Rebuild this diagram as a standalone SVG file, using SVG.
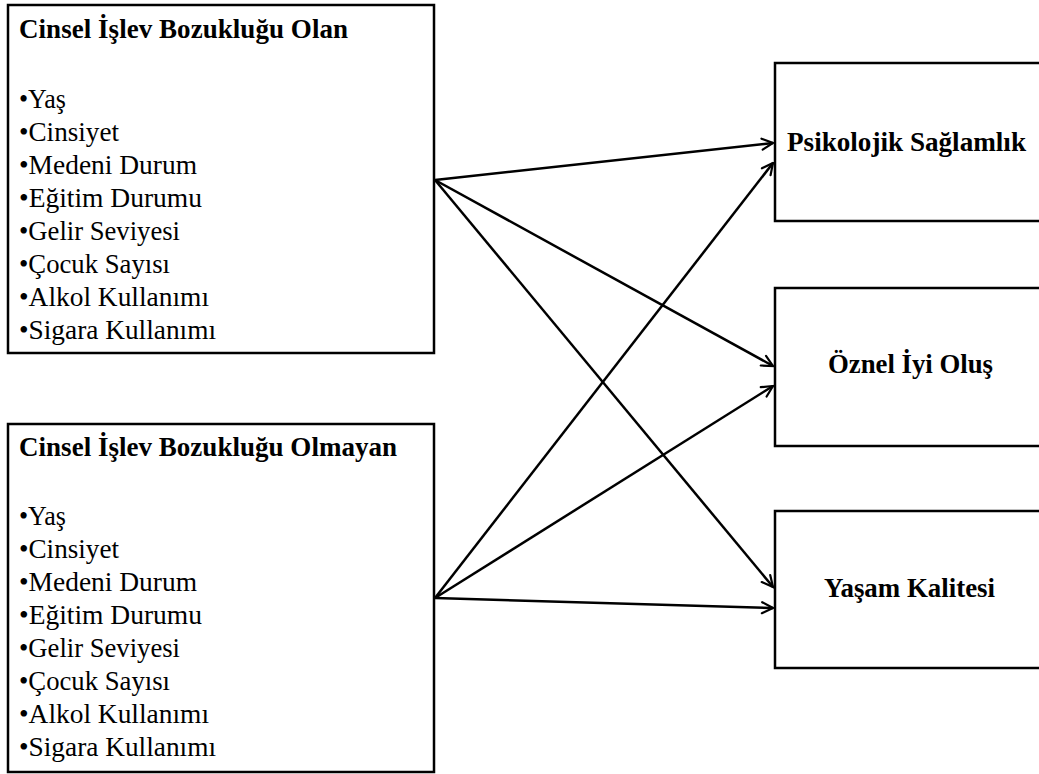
<svg xmlns="http://www.w3.org/2000/svg" width="1039" height="774" viewBox="0 0 1039 774">
  <style>
    .box { fill: #ffffff; stroke: #000000; stroke-width: 2.5; }
    .title { font-family: "Liberation Serif", "DejaVu Serif", serif; font-size: 27px; font-weight: bold; fill: #000000; }
    .item { font-family: "Liberation Serif", "DejaVu Serif", serif; font-size: 27px; fill: #000000; }
    .label { font-family: "Liberation Serif", "DejaVu Serif", serif; font-size: 26.5px; font-weight: bold; fill: #000000; }
    .link { fill: none; stroke: #000000; stroke-width: 2.5; marker-end: url(#arrow); }
  </style>
  <defs>
    <marker id="arrow" viewBox="0 0 14 14" refX="12.5" refY="7" markerWidth="14" markerHeight="14" markerUnits="userSpaceOnUse" orient="auto">
      <path d="M1.5,1.5 L12.5,7 L1.5,12.5" fill="none" stroke="#000000" stroke-width="2.2" stroke-linecap="round" stroke-linejoin="miter"/>
    </marker>
  </defs>
  <rect width="1039" height="774" fill="#ffffff"/>

  <!-- group with sexual dysfunction -->
  <g id="node-olan">
    <rect class="box" x="8" y="5" width="426" height="348"/>
    <text class="title" x="19" y="38" textLength="329" lengthAdjust="spacing">Cinsel İşlev Bozukluğu Olan</text>
    <text class="item" x="19" y="108" textLength="47" lengthAdjust="spacingAndGlyphs">•Yaş</text>
    <text class="item" x="19" y="141" textLength="100" lengthAdjust="spacingAndGlyphs">•Cinsiyet</text>
    <text class="item" x="19" y="174" textLength="178" lengthAdjust="spacingAndGlyphs">•Medeni Durum</text>
    <text class="item" x="19" y="207" textLength="183" lengthAdjust="spacingAndGlyphs">•Eğitim Durumu</text>
    <text class="item" x="19" y="240" textLength="161" lengthAdjust="spacingAndGlyphs">•Gelir Seviyesi</text>
    <text class="item" x="19" y="273" textLength="151" lengthAdjust="spacingAndGlyphs">•Çocuk Sayısı</text>
    <text class="item" x="19" y="306" textLength="190" lengthAdjust="spacingAndGlyphs">•Alkol Kullanımı</text>
    <text class="item" x="19" y="339" textLength="197" lengthAdjust="spacingAndGlyphs">•Sigara Kullanımı</text>
  </g>

  <!-- group without sexual dysfunction -->
  <g id="node-olmayan">
    <rect class="box" x="8" y="424" width="426" height="348"/>
    <text class="title" x="19" y="456" textLength="378" lengthAdjust="spacing">Cinsel İşlev Bozukluğu Olmayan</text>
    <text class="item" x="19" y="525" textLength="47" lengthAdjust="spacingAndGlyphs">•Yaş</text>
    <text class="item" x="19" y="558" textLength="100" lengthAdjust="spacingAndGlyphs">•Cinsiyet</text>
    <text class="item" x="19" y="591" textLength="178" lengthAdjust="spacingAndGlyphs">•Medeni Durum</text>
    <text class="item" x="19" y="624" textLength="183" lengthAdjust="spacingAndGlyphs">•Eğitim Durumu</text>
    <text class="item" x="19" y="657" textLength="161" lengthAdjust="spacingAndGlyphs">•Gelir Seviyesi</text>
    <text class="item" x="19" y="690" textLength="151" lengthAdjust="spacingAndGlyphs">•Çocuk Sayısı</text>
    <text class="item" x="19" y="723" textLength="190" lengthAdjust="spacingAndGlyphs">•Alkol Kullanımı</text>
    <text class="item" x="19" y="756" textLength="197" lengthAdjust="spacingAndGlyphs">•Sigara Kullanımı</text>
  </g>

  <!-- outcome variables -->
  <g id="node-saglamlik">
    <rect class="box" x="775" y="63" width="280" height="158"/>
    <text class="label" x="787" y="151" textLength="239" lengthAdjust="spacingAndGlyphs">Psikolojik Sağlamlık</text>
  </g>
  <g id="node-iyi-olus">
    <rect class="box" x="775" y="288" width="280" height="158"/>
    <text class="label" x="828" y="373" textLength="165" lengthAdjust="spacingAndGlyphs">Öznel İyi Oluş</text>
  </g>
  <g id="node-kalite">
    <rect class="box" x="775" y="511" width="280" height="157"/>
    <text class="label" x="824" y="597" textLength="171" lengthAdjust="spacingAndGlyphs">Yaşam Kalitesi</text>
  </g>

  <!-- paths from each group to each outcome -->
  <g id="connectors">
    <line class="link" x1="435" y1="180" x2="773" y2="143"/>
    <line class="link" x1="435" y1="180" x2="773" y2="366"/>
    <line class="link" x1="435" y1="180" x2="773" y2="587"/>
    <line class="link" x1="435" y1="598" x2="773" y2="163"/>
    <line class="link" x1="435" y1="598" x2="773" y2="386"/>
    <line class="link" x1="435" y1="598" x2="773" y2="608"/>
  </g>
</svg>
